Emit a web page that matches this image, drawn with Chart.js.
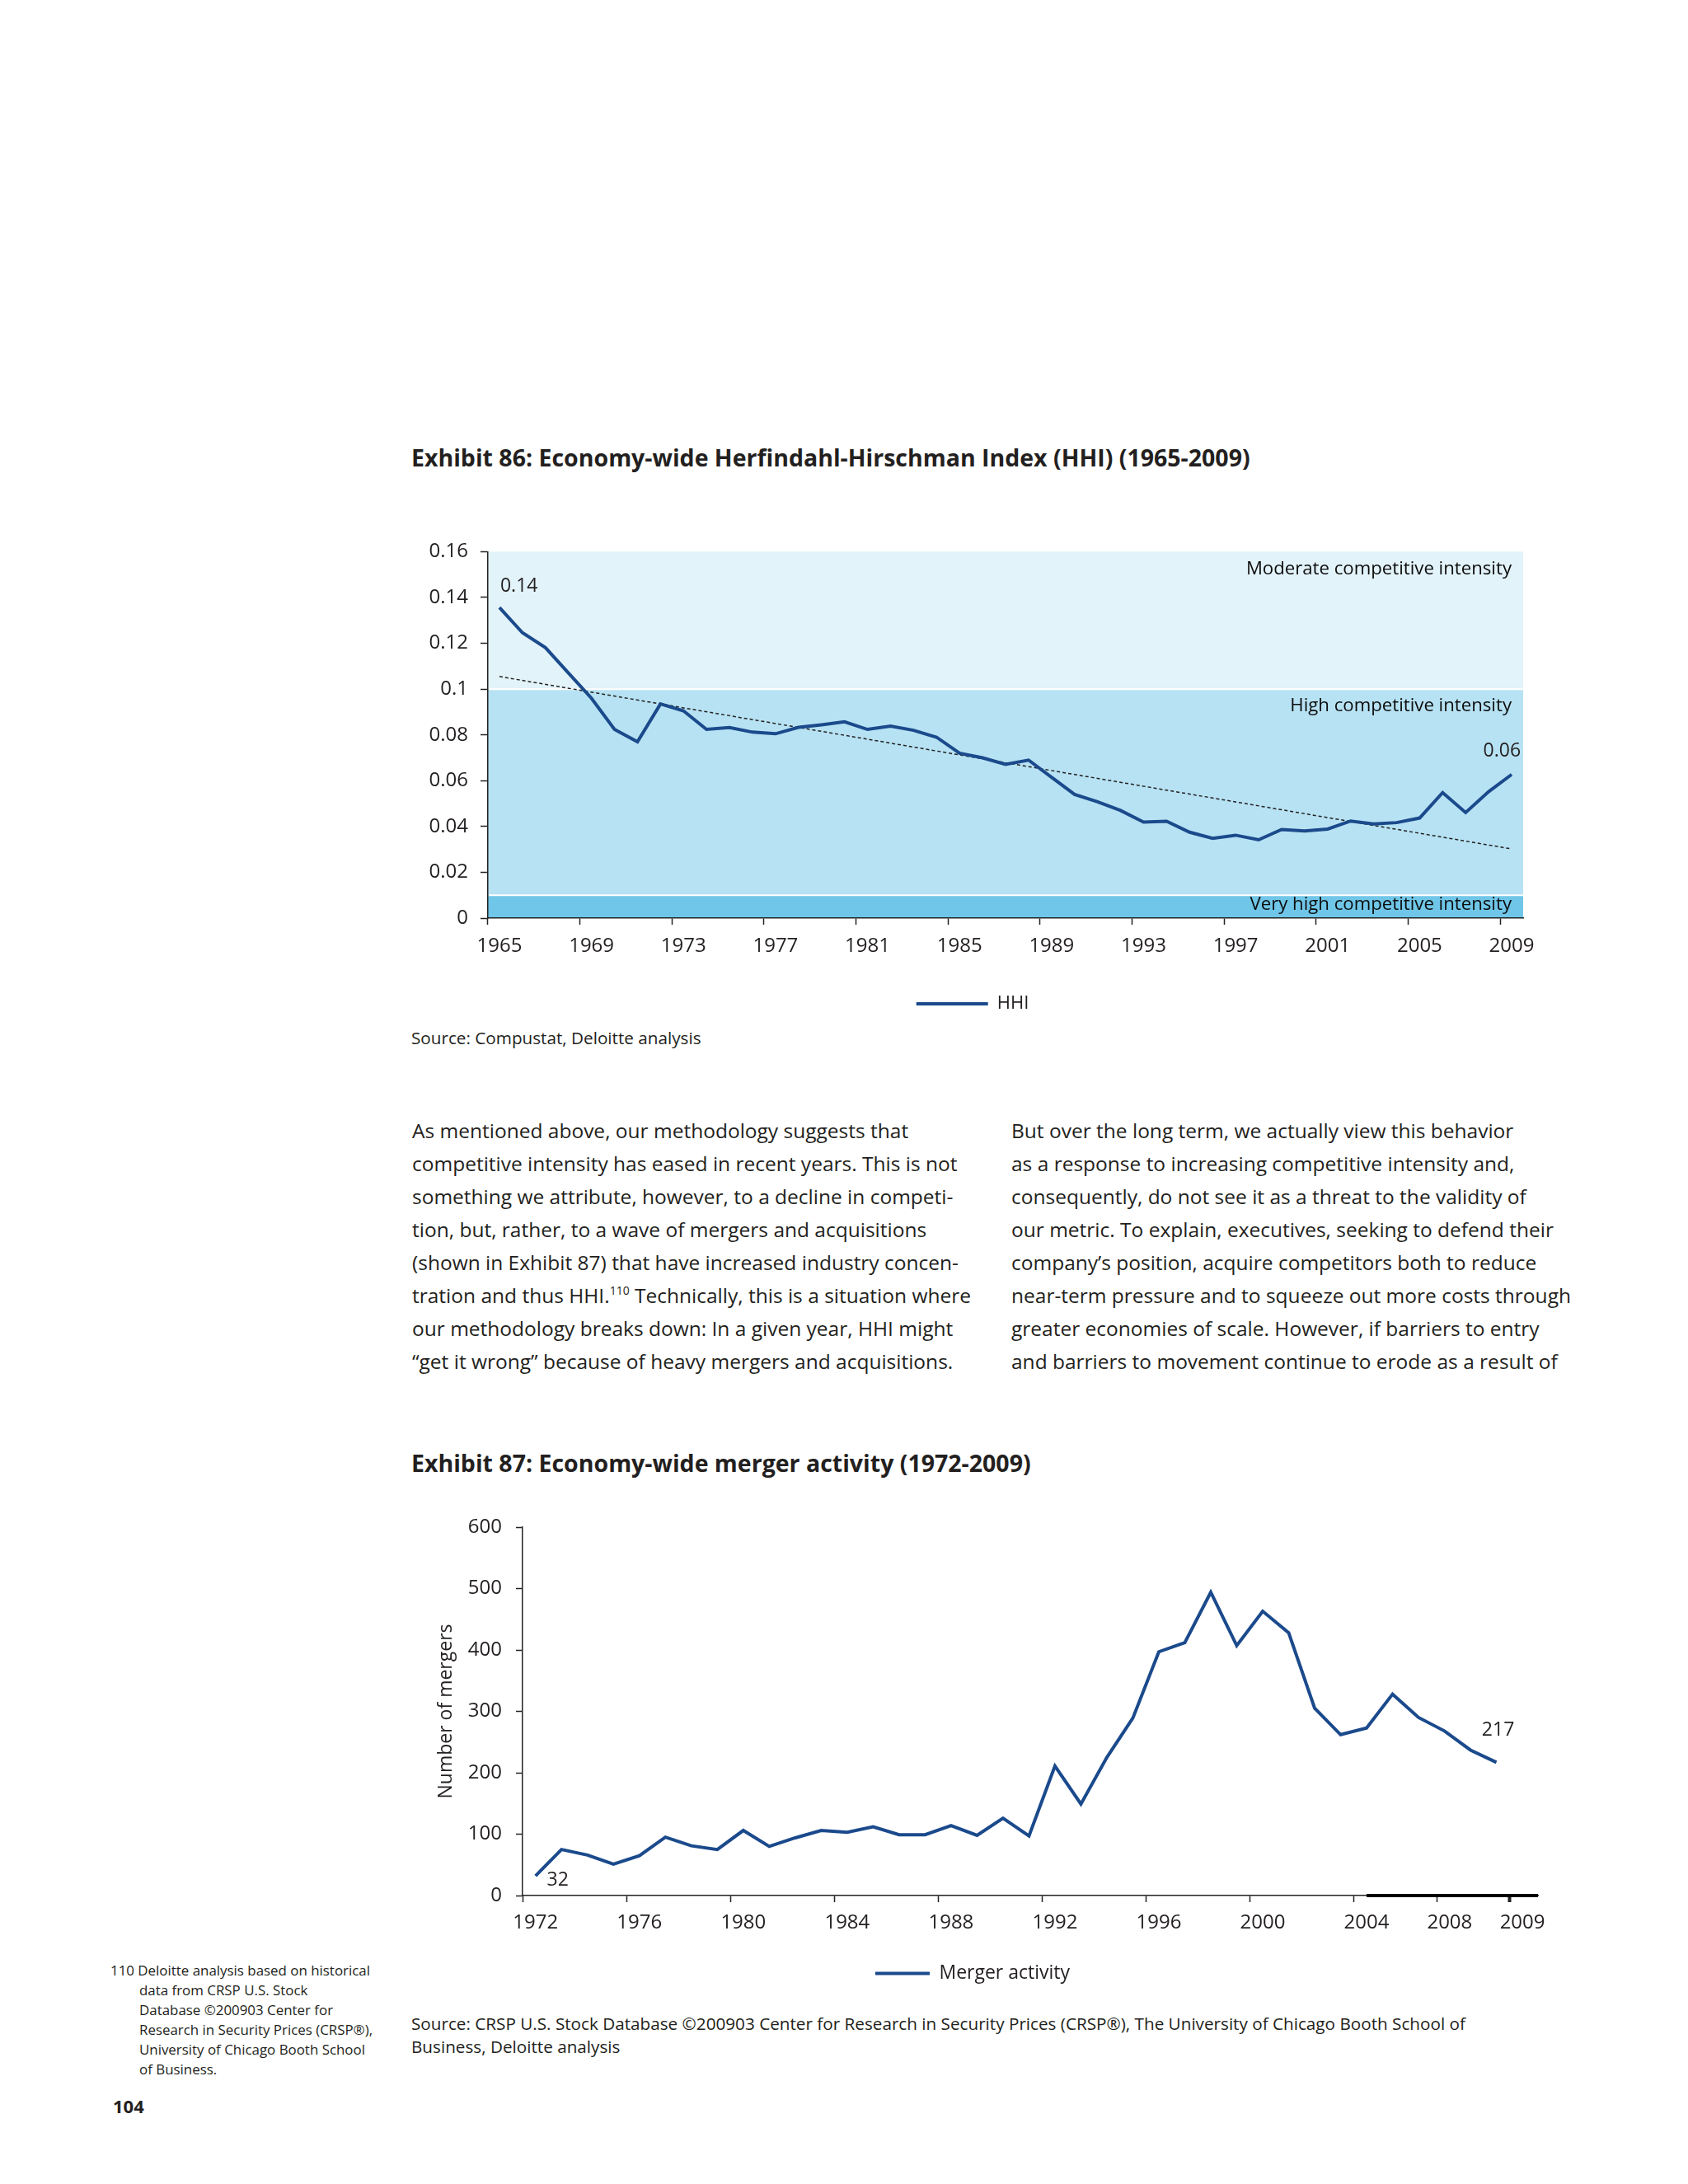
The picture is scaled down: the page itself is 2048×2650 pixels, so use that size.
<!DOCTYPE html>
<html><head><meta charset="utf-8">
<script src="https://cdn.jsdelivr.net/npm/chart.js@4.4.1/dist/chart.umd.min.js"></script>
<style>
html,body{margin:0;padding:0;background:#fff;}
#page{position:relative;width:2048px;height:2650px;background:#fff;font-family:"Open Sans",sans-serif;color:#231f20;overflow:hidden;}
.abs{position:absolute;white-space:nowrap;}
.title{font-weight:700;font-size:28.5px;line-height:32px;}
.src{font-size:20.7px;line-height:28px;}
.body{font-size:24.5px;line-height:40px;}
.fn{font-size:16.9px;line-height:24px;}
sup{font-size:14px;line-height:0;vertical-align:10px;}
canvas{display:block;}
</style></head>
<body><div id="page">

<div class="abs title" style="left:499px;top:539px;">Exhibit 86: Economy-wide Herfindahl-Hirschman Index (HHI) (1965-2009)</div>
<div class="abs" style="left:470px;top:640px;width:1420px;height:599px;"><canvas id="c1" width="1420" height="599"></canvas></div>
<div class="abs src" style="left:499px;top:1245px;">Source: Compustat, Deloitte analysis</div>

<div class="abs body" style="left:500px;top:1352px;">As mentioned above, our methodology suggests that<br>competitive intensity has eased in recent years. This is not<br>something we attribute, however, to a decline in competi-<br>tion, but, rather, to a wave of mergers and acquisitions<br>(shown in Exhibit 87) that have increased industry concen-<br>tration and thus HHI.<sup>110</sup> Technically, this is a situation where<br>our methodology breaks down: In a given year, HHI might<br>“get it wrong” because of heavy mergers and acquisitions.</div>
<div class="abs body" style="left:1227px;top:1352px;">But over the long term, we actually view this behavior<br>as a response to increasing competitive intensity and,<br>consequently, do not see it as a threat to the validity of<br>our metric. To explain, executives, seeking to defend their<br>company’s position, acquire competitors both to reduce<br>near-term pressure and to squeeze out more costs through<br>greater economies of scale. However, if barriers to entry<br>and barriers to movement continue to erode as a result of</div>

<div class="abs title" style="left:499px;top:1759px;">Exhibit 87: Economy-wide merger activity (1972-2009)</div>
<div class="abs" style="left:470px;top:1820px;width:1420px;height:596px;"><canvas id="c2" width="1420" height="596"></canvas></div>
<div class="abs src" style="left:499px;top:2441px;">Source: CRSP U.S. Stock Database ©200903 Center for Research in Security Prices (CRSP®), The University of Chicago Booth School of<br>Business, Deloitte analysis</div>

<div class="abs fn" style="left:134px;top:2379px;">110 Deloitte analysis based on historical</div>
<div class="abs fn" style="left:169px;top:2403px;">data from CRSP U.S. Stock<br>Database ©200903 Center for<br>Research in Security Prices (CRSP®),<br>University of Chicago Booth School<br>of Business.</div>
<div class="abs" style="left:137px;top:2540px;font-size:22px;font-weight:700;line-height:30px;">104</div>

</div>
<script>
// ---------- Data ----------
const hhiYears = ['1965','1966','1967','1968','1969','1970','1971','1972','1973','1974','1975','1976','1977','1978','1979','1980','1981','1982','1983','1984','1985','1986','1987','1988','1989','1990','1991','1992','1993','1994','1995','1996','1997','1998','1999','2000','2001','2002','2003','2004','2005','2006','2007','2008','2009'];
const hhiValues = [0.1356,0.1246,0.1181,0.107,0.096,0.0824,0.077,0.0935,0.0905,0.0824,0.0832,0.0812,0.0805,0.0833,0.0844,0.0857,0.0824,0.0838,0.082,0.079,0.072,0.070,0.0671,0.069,0.0615,0.054,0.0508,0.047,0.0419,0.0423,0.0375,0.0348,0.0362,0.0342,0.0387,0.0381,0.0389,0.0424,0.0411,0.0417,0.0437,0.0548,0.0461,0.0552,0.0627];
const hhiTrendEnds = [0.1055, 0.0302];
const hhiBands = [
  {from:0.10, to:0.16, label:'Moderate competitive intensity'},
  {from:0.01, to:0.10, label:'High competitive intensity'},
  {from:0, to:0.01, label:'Very high competitive intensity'}
];
const hhiBandColors = ['#e2f3f9','#b7e2f3','#6fc6e8'];

const mergerYears = [1972,1973,1974,1975,1976,1977,1978,1979,1980,1981,1982,1983,1984,1985,1986,1987,1988,1989,1990,1991,1992,1993,1994,1995,1996,1997,1998,1999,2000,2001,2002,2003,2004,2005,2006,2007,2008,2009];
const mergerValues = [32,75,66,51,65,95,81,75,106,80,94,106,103,112,99,99,114,98,126,97,211,149,225,289,397,412,494,407,463,428,305,262,273,328,290,268,237,217];
const mergerTickValues = [1971.5,1975.5,1979.5,1983.5,1987.5,1991.5,1995.5,1999.5,2003.5,2006.7,2009.5];
const mergerTickLabels = ['1972','1976','1980','1984','1988','1992','1996','2000','2004','2008','2009'];
const mergerAxisRange = [1971.5, 2010.6];
const mergerBoldAxisFrom = 2004;

// ---------- Styles ----------
const FONT = '"Open Sans", sans-serif';
const TXT = '#231f20';
const LINE = '#1b4a8c';
const AX = '#222222';

const bandsPlugin = {
  id:'bands',
  beforeDraw(chart, args, opts){
    if(!opts.bands) return;
    const {ctx, chartArea:a} = chart; const y = chart.scales.y;
    ctx.save();
    opts.bands.forEach((b,i)=>{
      const top = y.getPixelForValue(b.to), bot = y.getPixelForValue(b.from);
      ctx.fillStyle = opts.colors[i];
      ctx.fillRect(a.left, top, a.right - a.left, bot - top);
    });
    ctx.strokeStyle = '#ffffff'; ctx.lineWidth = 2;
    opts.bands.forEach((b,i)=>{
      if(i===0) return;
      const p = y.getPixelForValue(b.to);
      ctx.beginPath(); ctx.moveTo(a.left+1, p); ctx.lineTo(a.right, p); ctx.stroke();
    });
    ctx.fillStyle = '#0d0d0d'; ctx.font = '22.2px ' + FONT; ctx.textAlign = 'right'; ctx.textBaseline = 'middle';
    opts.bands.forEach((b)=>{
      const top = y.getPixelForValue(b.to), bot = y.getPixelForValue(b.from);
      const ty = Math.min(top + 21, (top+bot)/2 - 2);
      ctx.fillText(b.label, a.right - 14, ty);
    });
    ctx.restore();
  }
};

const pointLabelsPlugin = {
  id:'pointLabels',
  afterDatasetsDraw(chart, args, opts){
    if(!opts.items) return;
    const ctx = chart.ctx; const meta = chart.getDatasetMeta(0);
    ctx.save();
    ctx.fillStyle = TXT; ctx.font = '23px ' + FONT; ctx.textBaseline = 'middle';
    opts.items.forEach(it=>{
      const el = meta.data[it.index];
      const raw = chart.data.datasets[0].data[it.index];
      const v = (typeof raw === 'object') ? raw.y : raw;
      ctx.textAlign = it.align || 'left';
      ctx.fillText(opts.format(v), el.x + it.dx, el.y + it.dy);
    });
    ctx.restore();
  }
};

const boldAxisPlugin = {
  id:'boldAxis',
  afterDraw(chart, args, opts){
    if(opts.from === undefined) return;
    const {ctx, chartArea:a} = chart; const x = chart.scales.x;
    const x0 = x.getPixelForValue(opts.from);
    ctx.save(); ctx.strokeStyle = '#000'; ctx.lineWidth = 4;
    ctx.beginPath(); ctx.moveTo(x0, a.bottom); ctx.lineTo(x.right, a.bottom); ctx.stroke();
    ctx.restore();
  }
};

function build(){
  // ---------- Chart 1 ----------
  const trendData = hhiValues.map((v,i)=> i===0 ? hhiTrendEnds[0] : (i===hhiValues.length-1 ? hhiTrendEnds[1] : null));
  new Chart(document.getElementById('c1'), {
    type:'line',
    data:{labels:hhiYears, datasets:[
      {label:'HHI', data:hhiValues, borderColor:LINE, backgroundColor:LINE, borderWidth:4, pointRadius:0, tension:0, fill:false},
      {label:'Trend', data:trendData, borderColor:'#222', borderWidth:1.5, borderDash:[4,3], pointRadius:0, spanGaps:true, fill:false}
    ]},
    options:{
      responsive:false, animation:false, devicePixelRatio:1,
      layout:{padding:{top:26, right:42, left:42, bottom:0}},
      plugins:{
        legend:{position:'bottom', labels:{usePointStyle:true, pointStyle:'line', pointStyleWidth:87, color:TXT, padding:10, font:{family:FONT, size:22}, filter:it=>it.datasetIndex===0}},
        tooltip:{enabled:false},
        bands:{bands:hhiBands, colors:hhiBandColors},
        pointLabels:{items:[{index:0, dx:1, dy:-26, align:'left'},{index:hhiValues.length-1, dx:11, dy:-28, align:'right'}], format:v=>v.toFixed(2)}
      },
      scales:{
        x:{type:'category', offset:true,
          grid:{offset:true, drawOnChartArea:false, drawTicks:true, tickLength:8, tickWidth:1.5, tickColor:c=>(c.index!==undefined && c.index%4===0)?AX:'rgba(0,0,0,0)'},
          border:{color:AX, width:1.5},
          ticks:{autoSkip:false, maxRotation:0, minRotation:0, padding:12, color:TXT, font:{family:FONT, size:24}, callback:(v,i)=> i%4===0 ? hhiYears[i] : ''},
          afterFit:s=>{s.height = 83;}
        },
        y:{min:0, max:0.16,
          grid:{drawOnChartArea:false, tickLength:9, tickWidth:1.5, tickColor:AX},
          border:{color:AX, width:1.5},
          ticks:{stepSize:0.02, padding:15, color:TXT, font:{family:FONT, size:24}, callback:v=>String(+(+v).toFixed(2))},
          afterFit:s=>{s.width = 80;}
        }
      }
    },
    plugins:[bandsPlugin, pointLabelsPlugin]
  });

  // ---------- Chart 2 ----------
  const mergerPoints = mergerYears.map((yr,i)=>({x:yr, y:mergerValues[i]}));
  new Chart(document.getElementById('c2'), {
    type:'line',
    data:{datasets:[
      {label:'Merger activity', data:mergerPoints, borderColor:LINE, backgroundColor:LINE, borderWidth:4, pointRadius:0, tension:0, fill:false}
    ]},
    options:{
      responsive:false, animation:false, devicePixelRatio:1,
      layout:{padding:{top:33, right:24, left:24, bottom:0}},
      plugins:{
        legend:{position:'bottom', labels:{usePointStyle:true, pointStyle:'line', pointStyleWidth:66, color:TXT, padding:10, font:{family:FONT, size:23}}},
        tooltip:{enabled:false},
        pointLabels:{items:[{index:0, dx:27, dy:5, align:'center'},{index:mergerValues.length-1, dx:2, dy:-39, align:'center'}], format:v=>String(Math.round(v))},
        boldAxis:{from:mergerBoldAxisFrom}
      },
      scales:{
        x:{type:'linear', min:mergerAxisRange[0], max:mergerAxisRange[1],
          afterBuildTicks:s=>{ s.ticks = mergerTickValues.map(v=>({value:v})); },
          grid:{drawOnChartArea:false, drawTicks:true, tickLength:8, tickWidth:c=>(c.tick && c.tick.value===2009.5)?4:1.5, tickColor:AX},
          border:{color:AX, width:1.5},
          ticks:{autoSkip:false, maxRotation:0, minRotation:0, padding:11, labelOffset:15.75, color:TXT, font:{family:FONT, size:24},
            callback:(v)=>{ const k = mergerTickValues.indexOf(v); return k>=0 ? mergerTickLabels[k] : ''; }},
          afterFit:s=>{s.height = 73;}
        },
        y:{min:0, max:600,
          title:{display:true, text:'Number of mergers', color:TXT, font:{family:FONT, size:23}, padding:{top:34, bottom:0}},
          grid:{drawOnChartArea:false, tickLength:8, tickWidth:1.5, tickColor:AX},
          border:{color:AX, width:1.5},
          ticks:{stepSize:100, padding:17, color:TXT, font:{family:FONT, size:24}},
          afterFit:s=>{s.width = 140;}
        }
      }
    },
    plugins:[pointLabelsPlugin, boldAxisPlugin]
  });
}
if (document.fonts && document.fonts.load) {
  Promise.all([document.fonts.load('22px "Open Sans"'), document.fonts.load('bold 22px "Open Sans"')]).then(build, build);
} else { build(); }
</script>
</body></html>
